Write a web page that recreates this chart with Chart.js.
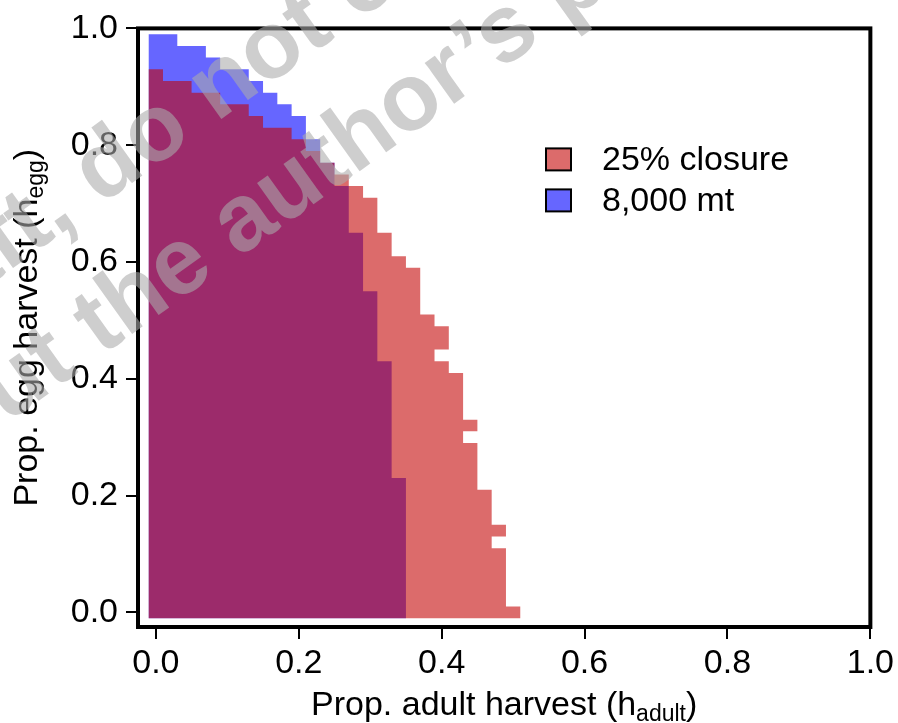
<!DOCTYPE html>
<html>
<head>
<meta charset="utf-8">
<title>Egg vs adult harvest</title>
<script src="https://cdn.jsdelivr.net/npm/chart.js@4.4.0/dist/chart.umd.min.js"></script>
<style>
  html, body { margin: 0; padding: 0; background: #fff; }
  canvas { display: block; }
</style>
</head>
<body>
<canvas id="harvestChart" width="898" height="723"></canvas>
<script>
// grid rows: proportion of egg harvest (one row every 0.02)
const eggHarvest = [0.00, 0.02, 0.04, 0.06, 0.08, 0.10, 0.12, 0.14, 0.16, 0.18,
                    0.20, 0.22, 0.24, 0.26, 0.28, 0.30, 0.32, 0.34, 0.36, 0.38,
                    0.40, 0.42, 0.44, 0.46, 0.48, 0.50, 0.52, 0.54, 0.56, 0.58,
                    0.60, 0.62, 0.64, 0.66, 0.68, 0.70, 0.72, 0.74, 0.76, 0.78,
                    0.80, 0.82, 0.84, 0.86, 0.88, 0.90, 0.92, 0.94, 0.96, 0.98];

// largest adult harvest still acceptable in each row (null = none)
const closureMax = [0.50, 0.48, 0.48, 0.48, 0.48, 0.48, 0.46, 0.48, 0.46, 0.46,
                    0.46, 0.44, 0.44, 0.44, 0.44, 0.42, 0.44, 0.42, 0.42, 0.42,
                    0.42, 0.40, 0.38, 0.40, 0.40, 0.38, 0.36, 0.36, 0.36, 0.36,
                    0.34, 0.32, 0.32, 0.30, 0.30, 0.30, 0.28, 0.26, 0.24, 0.22,
                    0.20, 0.18, 0.14, 0.12, 0.08, 0.04, 0.00, null, null, null];
const quotaMax = [0.34, 0.34, 0.34, 0.34, 0.34, 0.34, 0.34, 0.34, 0.34, 0.34,
                  0.34, 0.34, 0.32, 0.32, 0.32, 0.32, 0.32, 0.32, 0.32, 0.32,
                  0.32, 0.32, 0.30, 0.30, 0.30, 0.30, 0.30, 0.30, 0.28, 0.28,
                  0.28, 0.28, 0.28, 0.26, 0.26, 0.26, 0.26, 0.24, 0.24, 0.22,
                  0.22, 0.20, 0.20, 0.18, 0.16, 0.14, 0.12, 0.08, 0.06, 0.02];

const seriesLabels = ["25% closure", "8,000 mt"];
const tickValues = [0.0, 0.2, 0.4, 0.6, 0.8, 1.0];

const halfCell = 0.01;
const font = '"Liberation Sans", Arial, sans-serif';

// staircase outline of the cells, traced round the region
function outline(maxX) {
    let top = 0;
    maxX.forEach((v, i) => { if (v !== null) top = i; });
    const pts = [
        {x: -halfCell, y: eggHarvest[0] - halfCell},
        {x: -halfCell, y: eggHarvest[top] + halfCell}
    ];
    for (let i = top; i >= 0; i--) {
        pts.push({x: maxX[i] + halfCell, y: eggHarvest[i] + halfCell});
        pts.push({x: maxX[i] + halfCell, y: eggHarvest[i] - halfCell});
    }
    return pts;
}

// box, legend, axis titles and the watermark
const decorations = {
    id: "decorations",
    afterDatasetsDraw(chart) {
        const ctx = chart.ctx;
        const a = chart.chartArea;
        ctx.save();
        ctx.strokeStyle = "#000";
        ctx.lineWidth = 4;
        ctx.strokeRect(a.left, a.top, a.right - a.left, a.bottom - a.top);

        // legend
        ctx.font = "34px " + font;
        ctx.textBaseline = "alphabetic";
        chart.data.datasets.forEach((ds, i) => {
            const y = a.top + 120 + i * 41;
            ctx.fillStyle = ds.backgroundColor;
            ctx.fillRect(a.left + 408, y, 25, 22);
            ctx.lineWidth = 2;
            ctx.strokeStyle = "#000";
            ctx.strokeRect(a.left + 408, y, 25, 22);
            ctx.fillStyle = "#000";
            ctx.fillText(ds.label, a.left + 464, y + 22);
        });

        // axis titles with subscripts
        function subTitle(parts, cx, cy) {
            let w = 0;
            parts.forEach(p => {
                ctx.font = (p[1] ? "23px " : "34px ") + font;
                w += ctx.measureText(p[0]).width;
            });
            let x = cx - w / 2;
            parts.forEach(p => {
                ctx.font = (p[1] ? "23px " : "34px ") + font;
                ctx.fillText(p[0], x, cy + (p[1] ? 6 : 0));
                x += ctx.measureText(p[0]).width;
            });
        }
        ctx.fillStyle = "#000";
        subTitle([["Prop. adult harvest (h", false], ["adult", true], [")", false]],
                 (a.left + a.right) / 2, 715);
        ctx.save();
        ctx.translate(37, (a.top + a.bottom) / 2);
        ctx.rotate(-Math.PI / 2);
        subTitle([["Prop. egg harvest (h", false], ["egg", true], [")", false]], 0, 0);
        ctx.restore();
        ctx.restore();
    },
    afterDraw(chart) {
        const ctx = chart.ctx;
        ctx.save();
        ctx.font = 'bold 95px "Liberation Sans", Arial, sans-serif';
        ctx.fillStyle = "rgba(170,170,170,0.58)";
        const ang = -35.6 * Math.PI / 180;
        const ux = Math.cos(ang), uy = Math.sin(ang);
        function place(text, before, ch, bx, by) {
            const off = ctx.measureText(before).width + ctx.measureText(ch).width / 2;
            ctx.save();
            ctx.translate(bx - off * ux, by - off * uy);
            ctx.rotate(ang);
            ctx.fillText(text, 0, 0);
            ctx.restore();
        }
        place("Draft, do not cite", "Draft, d", "o", 171, 155);
        place("without the author\u2019s permission", "without ", "t", 114, 347);
        ctx.restore();
    }
};

new Chart("harvestChart", {
    type: "line",
    data: {
        datasets: [{
            label: seriesLabels[0],
            data: outline(closureMax),
            backgroundColor: "rgba(195,0,0,0.58)",
            borderWidth: 0,
            pointRadius: 0,
            fill: "shape"
        }, {
            label: seriesLabels[1],
            data: outline(quotaMax),
            backgroundColor: "rgba(0,0,255,0.6)",
            borderWidth: 0,
            pointRadius: 0,
            fill: "shape"
        }]
    },
    options: {
        responsive: false,
        animation: false,
        events: [],
        layout: { padding: { top: 25, right: 26, left: 0, bottom: 0 } },
        plugins: {
            legend: { display: false },
            tooltip: { enabled: false }
        },
        scales: {
            x: {
                type: "linear",
                min: -0.025,
                max: 1.0,
                afterFit: s => { s.height = 96; },
                afterBuildTicks: s => { s.ticks = tickValues.map(v => ({value: v})); },
                border: { display: false },
                grid: { drawOnChartArea: false, tickLength: 12, color: "#000", lineWidth: 2 },
                ticks: {
                    color: "#000",
                    padding: 4,
                    maxRotation: 0,
                    font: { family: font, size: 34 },
                    callback: v => v.toFixed(1)
                }
            },
            y: {
                type: "linear",
                min: -0.025,
                max: 1.0,
                afterFit: s => { s.width = 138; },
                afterBuildTicks: s => { s.ticks = tickValues.map(v => ({value: v})); },
                border: { display: false },
                grid: { drawOnChartArea: false, tickLength: 12, color: "#000", lineWidth: 2 },
                ticks: {
                    color: "#000",
                    padding: 8,
                    font: { family: font, size: 34 },
                    callback: v => v.toFixed(1)
                }
            }
        }
    },
    plugins: [decorations]
});
</script>
</body>
</html>
